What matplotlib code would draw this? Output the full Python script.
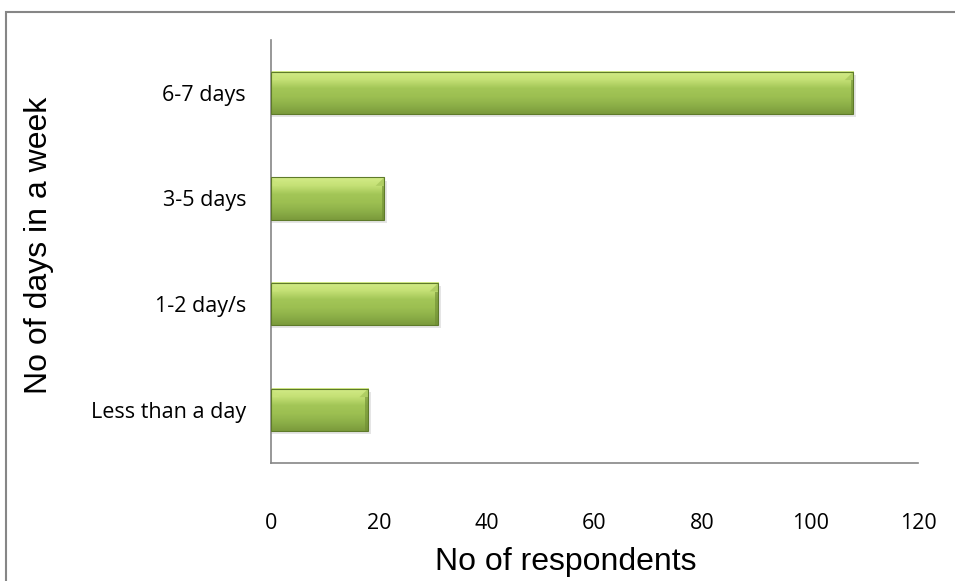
import matplotlib.pyplot as plt
import numpy as np
from matplotlib.colors import LinearSegmentedColormap
from matplotlib.patches import Rectangle, Polygon

# Categories (bottom to top) and counts
categories = ['Less than a day', '1-2 day/s', '3-5 days', '6-7 days']
respondents = [18, 31, 21, 108]
x_ticks = [0, 20, 40, 60, 80, 100, 120]

fig = plt.figure(figsize=(9.55, 5.81), dpi=100)
ax = fig.add_axes([0.2838, 0.2036, 0.6775, 0.7276])

# outer frame of the chart area (right/bottom edges fall outside the image)
fig.patches.append(Rectangle((6 / 955, -0.05), 1.0, 1.05 - 12 / 581,
                             transform=fig.transFigure, fill=False,
                             edgecolor='#868686', linewidth=1.5))

# green gradient, top to bottom
green = LinearSegmentedColormap.from_list(
    'bevel', ['#7b9a3b', '#8caf48', '#9cbf51', '#a3c657', '#c4e075', '#d4ec88'])
grad = np.linspace(0, 1, 256).reshape(-1, 1)

bar_h = 0.4
ypos = np.arange(len(categories))

for y, val in zip(ypos, respondents):
    # soft shadow under bar
    ax.barh(y - 0.03, val + 0.5, height=bar_h, color='#000000', alpha=0.10,
            zorder=1)
    ax.imshow(grad, cmap=green, aspect='auto', origin='lower',
              extent=(0, val, y - bar_h / 2, y + bar_h / 2), zorder=2)
    # bevel corners at the ends
    bev = 1.6
    top, bot = y + bar_h / 2, y - bar_h / 2
    ax.add_patch(Polygon([(0, top), (bev, top - 0.08), (0, top - 0.08)],
                         closed=True, color='#c8e37a', alpha=0.8, lw=0, zorder=3))
    ax.add_patch(Polygon([(val, top), (val - bev, top - 0.08), (val, top - 0.08)],
                         closed=True, color='#a9c85e', alpha=0.8, lw=0, zorder=3))
    ax.add_patch(Polygon([(val, top - 0.08), (val - 0.5, top - 0.08), (val - 0.5, bot), (val, bot)],
                         closed=True, color='#6e8c33', alpha=0.6, lw=0, zorder=3))
    ax.add_patch(Rectangle((0, bot), val, bar_h, fill=False, edgecolor='#5e7a2a',
                           linewidth=0.8, zorder=4))

ax.set_xlim(0, 120)
ax.set_ylim(-0.5, len(categories) - 0.5)
ax.set_xticks(x_ticks)
ax.set_yticks(ypos)
ax.set_yticklabels(categories, fontsize=15.5, fontfamily='Open Sans')
ax.set_xticklabels([str(t) for t in x_ticks], fontsize=15.5, fontfamily='Open Sans')
ax.tick_params(axis='both', length=0)
ax.tick_params(axis='x', pad=36)
ax.tick_params(axis='y', pad=18)

for s in ['top', 'right']:
    ax.spines[s].set_visible(False)
for s in ['left', 'bottom']:
    ax.spines[s].set_color('#868686')
    ax.spines[s].set_linewidth(1.2)

ax.set_xlabel('No of respondents', fontsize=23, fontfamily='Liberation Sans')
ax.set_ylabel('No of days in a week', fontsize=23, fontfamily='Liberation Sans')
ax.xaxis.set_label_coords(0.456, -0.2)
ax.yaxis.set_label_coords(-0.335, 0.513)

plt.savefig('out.png', dpi=100)
